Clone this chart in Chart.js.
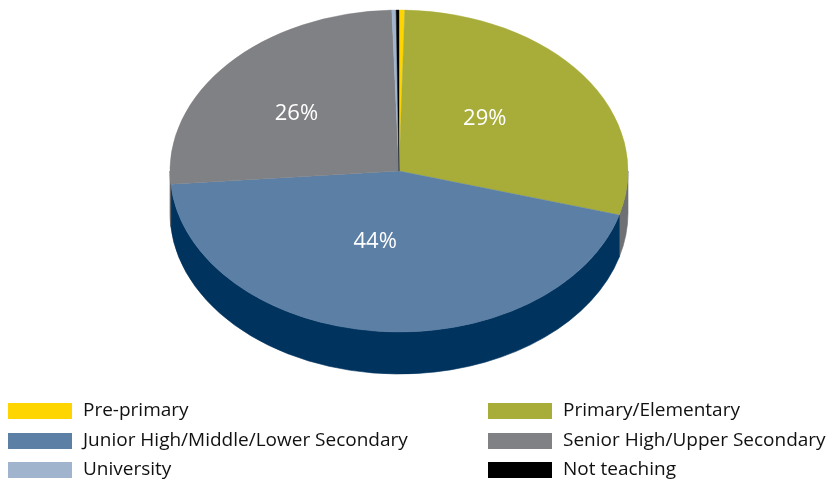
<!DOCTYPE html>
<html>
<head>
<meta charset="utf-8">
<script src="https://cdn.jsdelivr.net/npm/chart.js@4.4.1/dist/chart.umd.min.js"></script>
<style>
  html, body { margin: 0; padding: 0; background: #fff; }
  #wrap { width: 828px; height: 485px; }
</style>
</head>
<body>
<div id="wrap"><canvas id="graph-levels" width="828" height="485"></canvas></div>
<script>
// Niveles de enseñanza (porcentaje de participantes)
const categories = [
  "Pre-primary",
  "Primary/Elementary",
  "Junior High/Middle/Lower Secondary",
  "Senior High/Upper Secondary",
  "University",
  "Not teaching"
];
const shares = [0.4, 29.0, 44.3, 25.8, 0.3, 0.2];

// Colores de la cara superior y del lateral de cada porción
const topColors = ["#FFD500", "#A8AD3A", "#5B7FA5", "#808184", "#A0B4CD", "#000000"];
const sideColors = ["#C9A800", "#6E7073", "#00335E", "#5E5F62", "#7C8EA6", "#000000"];

const TILT = 0.703;   // aplastado vertical de la tarta
const DEPTH = 42;     // grosor del lateral
const CENTER_Y = 171; // centro de la elipse en pantalla

// Dibuja el lateral y aplasta la tarta para que parezca 3D
const pie3d = {
  id: "pie3d",
  beforeDatasetsDraw(chart) {
    const ctx = chart.ctx;
    const arcs = chart.getDatasetMeta(0).data;
    const cx = arcs[0].x;
    const r = arcs[0].outerRadius;
    const ry = r * TILT;

    arcs.forEach((arc, i) => {
      const s = Math.max(arc.startAngle, 0);
      const e = Math.min(arc.endAngle, Math.PI);
      if (e <= s) return;
      ctx.beginPath();
      ctx.ellipse(cx, CENTER_Y, r, ry, 0, s, e);
      ctx.ellipse(cx, CENTER_Y + DEPTH, r, ry, 0, e, s, true);
      ctx.closePath();
      ctx.fillStyle = sideColors[i];
      ctx.strokeStyle = sideColors[i];
      ctx.lineWidth = 0.6;
      ctx.fill();
      ctx.stroke();
    });

    ctx.save();
    ctx.translate(0, CENTER_Y);
    ctx.scale(1, TILT);
    ctx.translate(0, -arcs[0].y);
  },
  afterDatasetsDraw(chart) {
    const ctx = chart.ctx;
    ctx.restore();

    // Etiquetas de porcentaje
    const arcs = chart.getDatasetMeta(0).data;
    const total = shares.reduce((a, b) => a + b, 0);
    const cx = arcs[0].x;
    const r = arcs[0].outerRadius;
    ctx.save();
    ctx.fillStyle = "#ffffff";
    ctx.font = "22px 'Open Sans'";
    ctx.textAlign = "center";
    ctx.textBaseline = "middle";
    arcs.forEach((arc, i) => {
      const pct = shares[i] / total * 100;
      if (pct < 5) return;
      const mid = (arc.startAngle + arc.endAngle) / 2;
      const x = cx - 12 + Math.cos(mid) * r * 0.53;
      const y = CENTER_Y - 6 + Math.sin(mid) * r * TILT * 0.48;
      ctx.fillText(Math.round(pct) + "%", x, y);
    });
    ctx.restore();
  },
  afterDraw(chart) {
    // Leyenda en dos columnas
    const ctx = chart.ctx;
    const colX = [8, 488];
    const rowY = [403, 433, 462];
    ctx.save();
    ctx.font = "19px 'Open Sans'";
    ctx.textBaseline = "middle";
    categories.forEach((name, i) => {
      const x = colX[i % 2];
      const y = rowY[Math.floor(i / 2)];
      ctx.fillStyle = topColors[i];
      ctx.fillRect(x, y, 64, 16);
      ctx.fillStyle = "#111";
      ctx.fillText(name, x + 75, y + 8);
    });
    ctx.restore();
  }
};

function creategraph() {
  const canvas = document.getElementById("graph-levels");
  new Chart(canvas, {
    type: "pie",
    data: {
      labels: categories,
      datasets: [
        {
          data: shares,
          backgroundColor: topColors,
          borderColor: topColors,
          borderWidth: 0.5,
          hoverOffset: 0
        }
      ]
    },
    options: {
      responsive: false,
      animation: false,
      radius: 229,
      layout: { padding: { left: 170, right: 200, top: 13, bottom: 14 } },
      plugins: {
        legend: { display: false },
        tooltip: { enabled: false }
      }
    },
    plugins: [pie3d]
  });
}

document.addEventListener("DOMContentLoaded", () => {
  creategraph();
});
</script>
</body>
</html>
